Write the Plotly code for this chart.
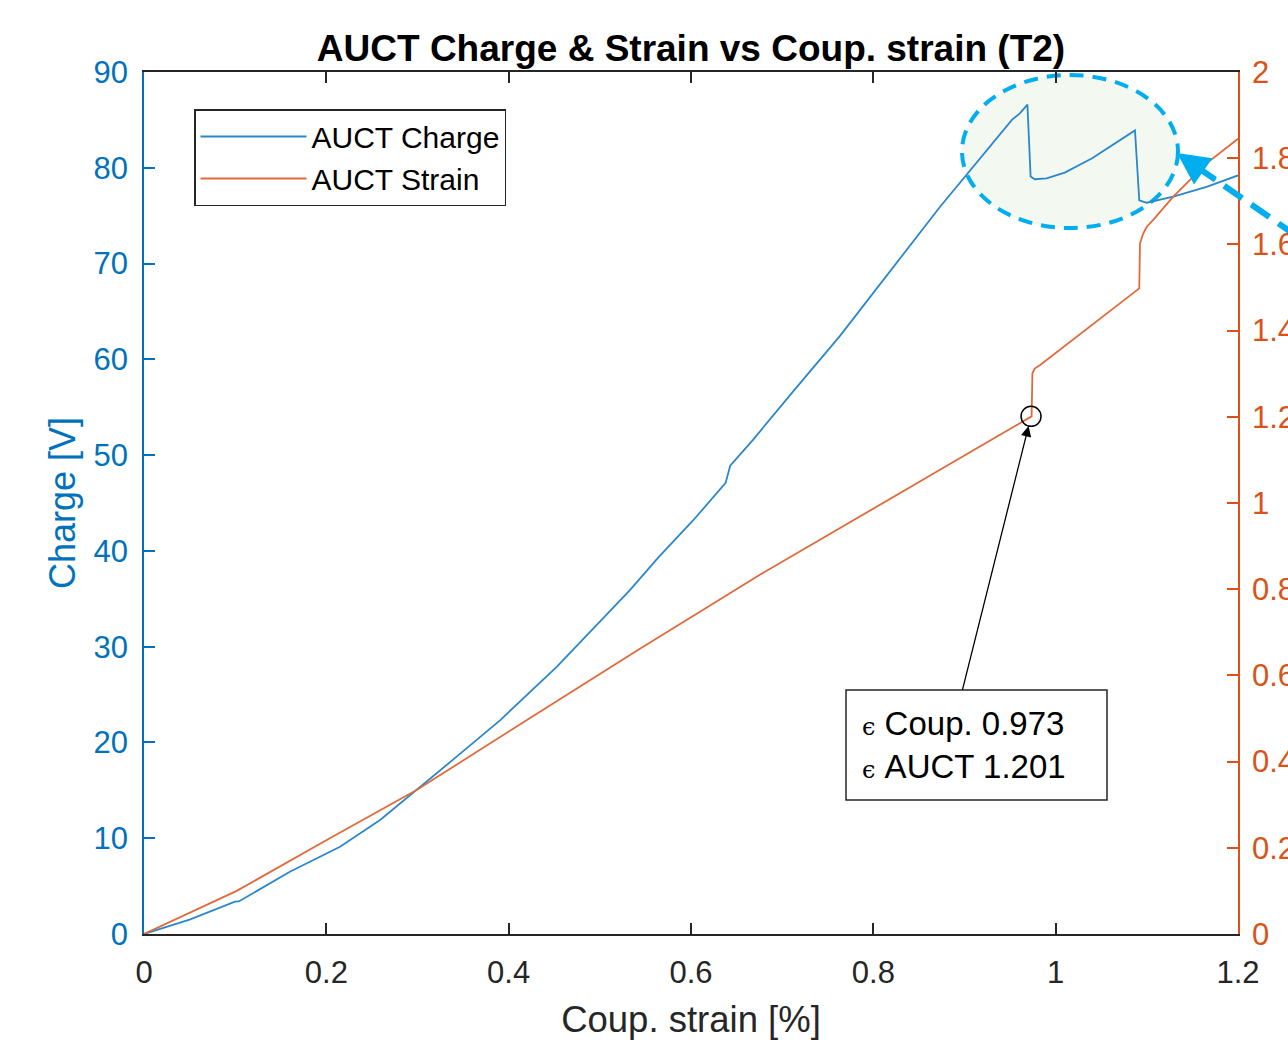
import plotly.graph_objects as go

# ---- data ----
charge_x = [0, 0.05, 0.0998, 0.104, 0.16, 0.215, 0.259, 0.299, 0.339, 0.3905, 0.4527,
            0.533, 0.564, 0.6025, 0.638, 0.643, 0.668, 0.716, 0.763, 0.873,
            0.952, 0.961, 0.969, 0.9725, 0.977, 0.99, 1.01, 1.04, 1.065, 1.087,
            1.0917, 1.100, 1.129, 1.1655, 1.2]
charge_y = [0, 1.5, 3.37, 3.4, 6.5, 9.1, 11.9, 15.0, 18.2, 22.3, 27.9,
            35.9, 39.3, 43.2, 47.1, 48.9, 51.6, 57.1, 62.4, 75.9,
            85.0, 85.7, 86.6, 79.1, 78.8, 78.9, 79.5, 81.0, 82.5, 83.9,
            76.6, 76.35, 77.0, 78.0, 79.2]

strain_x = [0, 0.1017, 0.2004, 0.299, 0.42, 0.544, 0.676, 0.884, 0.9736, 0.9745,
            0.977, 0.983, 1.0917, 1.0925, 1.096, 1.100, 1.107, 1.129, 1.1655, 1.2]
strain_y = [0, 0.10, 0.218, 0.334, 0.4965, 0.662, 0.834, 1.09, 1.201, 1.301,
            1.312, 1.320, 1.498, 1.6025, 1.625, 1.641, 1.657, 1.711, 1.788, 1.845]

marker_x = [0.973]
marker_y = [1.201]

x_ticks = [0, 0.2, 0.4, 0.6, 0.8, 1, 1.2]
x_tick_labels = ["0", "0.2", "0.4", "0.6", "0.8", "1", "1.2"]
y1_ticks = [0, 10, 20, 30, 40, 50, 60, 70, 80, 90]
y2_ticks = [0, 0.2, 0.4, 0.6, 0.8, 1, 1.2, 1.4, 1.6, 1.8, 2]
y2_tick_labels = ["0", "0.2", "0.4", "0.6", "0.8", "1", "1.2", "1.4", "1.6", "1.8", "2"]

BLUE = "#0072BD"
ORANGE = "#D95319"
DARK = "#262626"
CYAN = "#00AEEF"
FONT = "Liberation Sans, Arial, Helvetica, sans-serif"

W, H = 1288, 1046
ML, MR, MT, MB = 144, 50, 72, 112
PW, PH = W - ML - MR, H - MT - MB


def px(xp):
    return (xp - ML) / PW


def py(yp):
    return (H - MB - yp) / PH


fig = go.Figure()

fig.add_trace(go.Scatter(x=charge_x, y=charge_y, mode="lines", name="AUCT Charge",
                         line=dict(color="#2b87cb", width=1.8), yaxis="y"))
fig.add_trace(go.Scatter(x=strain_x, y=strain_y, mode="lines", name="AUCT Strain",
                         line=dict(color="#e06a3a", width=1.8), yaxis="y2"))
fig.add_trace(go.Scatter(x=marker_x, y=marker_y, mode="markers", showlegend=False,
                         marker=dict(symbol="circle-open", size=20, color="black",
                                     line=dict(width=1.5, color="black")),
                         yaxis="y2"))

# highlight ellipse
fig.add_shape(type="circle", xref="paper", yref="paper",
              x0=px(962), x1=px(1178), y0=py(228), y1=py(75),
              line=dict(color=CYAN, width=4, dash="14px,9px"),
              fillcolor="rgba(228,240,222,0.45)", layer="below")

# dashed pointer arrow shaft
fig.add_shape(type="line", xref="paper", yref="paper",
              x0=px(1197), y0=py(167), x1=px(1340), y1=py(266),
              line=dict(color=CYAN, width=6, dash="22px,11px"))

# pointer arrow head
fig.add_annotation(xref="paper", yref="paper", x=px(1177), y=py(153),
                   ax=40, ay=28, text="", showarrow=True,
                   arrowhead=2, arrowsize=1.6, arrowwidth=4, arrowcolor=CYAN)

# data-tip box
fig.add_shape(type="rect", xref="paper", yref="paper",
              x0=px(846), x1=px(1107), y0=py(800), y1=py(690),
              line=dict(color=DARK, width=1.5), fillcolor="white")
eps = "<span style='font-family:DejaVu Serif, serif;font-size:24px'>ϵ</span>"
fig.add_annotation(xref="paper", yref="paper", x=px(860), y=py(745),
                   xanchor="left", yanchor="middle", align="left", showarrow=False,
                   text=f"{eps} Coup. 0.973<br>{eps} AUCT 1.201",
                   font=dict(family=FONT, size=33, color="black"))

# arrow from box to marker
fig.add_annotation(x=marker_x[0], y=marker_y[0], xref="x", yref="y2",
                   ax=-69, ay=275, text="", showarrow=True,
                   arrowhead=2, arrowsize=1.6, arrowwidth=1.3, arrowcolor="black",
                   standoff=10)

fig.update_layout(
    width=W, height=H,
    margin=dict(l=ML, r=MR, t=MT, b=MB, autoexpand=False),
    paper_bgcolor="white", plot_bgcolor="white",
    font=dict(family=FONT, size=31, color=DARK),
    title=dict(text="<b>AUCT Charge &amp; Strain vs Coup. strain (T2)</b>",
               x=0.5, xref="paper", y=1 - 48 / H, yref="container",
               xanchor="center", yanchor="middle", automargin=False,
               font=dict(family=FONT, size=37, color="black")),
    xaxis=dict(range=[0, 1.2], tickvals=x_ticks, ticktext=x_tick_labels,
               showgrid=False, zeroline=False, showline=True, linecolor=DARK,
               linewidth=1.5, mirror="ticks", ticks="inside", ticklen=11,
               tickwidth=1.5, tickcolor=DARK, ticklabelstandoff=10, automargin=False,
               tickfont=dict(size=31, color=DARK),
               title=dict(text="Coup. strain [%]", standoff=17,
                          font=dict(size=36.5, color=DARK))),
    yaxis=dict(range=[0, 90], tickvals=y1_ticks, showgrid=False, zeroline=False,
               showline=True, linecolor=BLUE, linewidth=1.5, ticks="inside",
               ticklen=11, tickwidth=1.5, tickcolor=BLUE, ticklabelstandoff=8,
               automargin=False, tickfont=dict(size=31, color=BLUE),
               title=dict(text="Charge [V]", standoff=7,
                          font=dict(size=36, color=BLUE))),
    yaxis2=dict(range=[0, 2], tickvals=y2_ticks, ticktext=y2_tick_labels,
                overlaying="y", side="right", showgrid=False, zeroline=False,
                showline=True, linecolor=ORANGE, linewidth=1.5, ticks="inside",
                ticklen=11, tickwidth=1.5, tickcolor=ORANGE, ticklabelstandoff=6,
                automargin=False, tickfont=dict(size=31, color=ORANGE)),
    legend=dict(x=px(194), y=py(109), xanchor="left", yanchor="top",
                bgcolor="white", bordercolor=DARK, borderwidth=1.5,
                font=dict(family=FONT, size=30, color="black"),
                itemwidth=106, tracegroupgap=0),
    showlegend=True,
)

fig.write_html("out.html")
